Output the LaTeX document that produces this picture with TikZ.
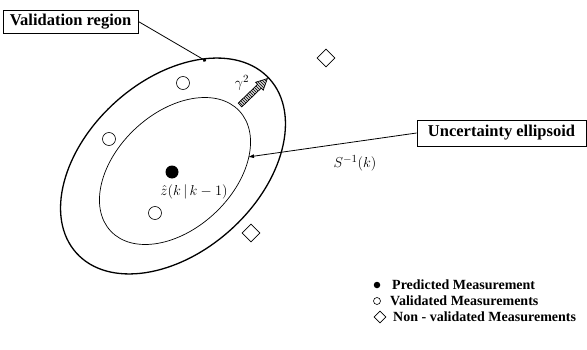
\documentclass[tikz,border=0pt]{standalone}
\usepackage{fontspec}
\setmainfont{Liberation Serif}
\usetikzlibrary{arrows.meta,shapes.geometric,patterns}
\begin{document}
\begin{tikzpicture}[x=1pt,y=1pt,
  boxlabel/.style={draw, line width=0.8pt, inner sep=2pt, font=\fontsize{16.5}{18}\selectfont\bfseries},
  legtext/.style={anchor=west, inner sep=0pt, font=\fontsize{14}{16}\selectfont\bfseries},
  opendot/.style={circle, draw, line width=0.6pt, fill=white, inner sep=0pt, minimum size=13pt},
  fulldot/.style={circle, fill=black, inner sep=0pt, minimum size=13pt},
  nonval/.style={diamond, draw, line width=0.6pt, inner sep=0pt, minimum size=18pt},
  leader/.style={line width=0.8pt},
  mathlab/.style={inner sep=0pt, font=\fontsize{15}{17}\selectfont}
]
\useasboundingbox (0,0) rectangle (587,349);
% ellipses
\draw[line width=1.3pt, rotate around={42:(173,183)}] (173,183) ellipse [x radius=130, y radius=86];
\draw[line width=0.7pt, rotate around={43:(175,178)}] (175,178) ellipse [x radius=88, y radius=58];
% points
\node[fulldot] (pred) at (172,177) {};
\node[mathlab] (zlab) at (194,157) {$\hat{z}(k\,|\,k-1)$};
\node[opendot] (v1) at (183,266) {};
\node[opendot] (v2) at (109,210) {};
\node[opendot] (v3) at (155,136) {};
\node[nonval] (n1) at (326,291) {};
\node[nonval] (n2) at (251,116) {};
% gamma arrow
\coordinate (gt) at (240,244);
\begin{scope}[shift={(gt)}, rotate=44]
  \fill[gray!35] (0,-2.6) -- (27,-2.6) -- (27,-5.5) -- (38,0) -- (27,5.5) -- (27,2.6) -- (0,2.6) -- cycle;
  \fill[pattern=north west lines, pattern color=black] (0,-2.6) -- (27,-2.6) -- (27,-5.5) -- (38,0) -- (27,5.5) -- (27,2.6) -- (0,2.6) -- cycle;
  \draw[line width=0.7pt] (0,-2.6) -- (27,-2.6) -- (27,-5.5) -- (38,0) -- (27,5.5) -- (27,2.6) -- (0,2.6) -- cycle;
\end{scope}
\node[mathlab] (glab) at (242,266) {$\gamma^2$};
% boxes and leaders
\node[boxlabel, minimum width=135pt, minimum height=23pt] (vbox) at (70.5,327.5) {Validation region};
\coordinate (vtip) at (206,288);
\draw[leader, -{Circle[length=3.5pt]}] (vbox.east) -- (vtip);
\node[boxlabel, minimum width=169pt, minimum height=26pt] (ubox) at (501.5,216) {Uncertainty ellipsoid};
\coordinate (utip) at (248,192);
\draw[leader, -{Latex[length=6pt,width=4pt]}] (ubox.west) -- (utip);
\node[mathlab] (slab) at (355,186) {$S^{-1}(k)$};
% legend
\node[circle, fill=black, inner sep=0pt, minimum size=6.5pt] (l1) at (377,64) {};
\node[legtext] (t1) at (392,64) {Predicted Measurement};
\node[circle, draw, line width=0.6pt, inner sep=0pt, minimum size=7pt] (l2) at (377,48) {};
\node[legtext] (t2) at (390,48) {Validated Measurements};
\node[diamond, draw, line width=0.6pt, inner sep=0pt, minimum size=12pt] (l3) at (380,32) {};
\node[legtext] (t3) at (393,32) {Non - validated Measurements};
\end{tikzpicture}
\end{document}
